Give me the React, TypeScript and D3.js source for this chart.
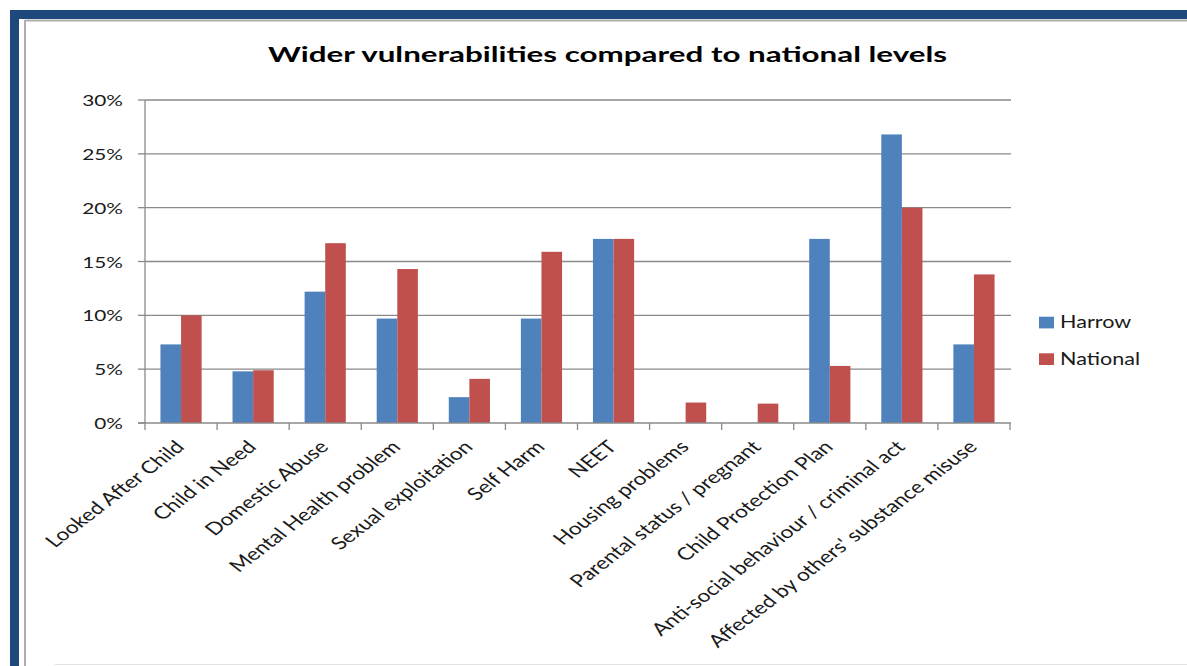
import React from "react";
import * as d3 from "d3";

// Chart data (percentages)
const categories = [
  "Looked After Child",
  "Child in Need",
  "Domestic Abuse",
  "Mental Health problem",
  "Sexual exploitation",
  "Self Harm",
  "NEET",
  "Housing problems",
  "Parental status / pregnant",
  "Child Protection Plan",
  "Anti-social behaviour / criminal act",
  "Affected by others' substance misuse",
];
const harrow = [7.3, 4.8, 12.2, 9.7, 2.4, 9.7, 17.1, 0, 0, 17.1, 26.8, 7.3];
const national = [10.0, 4.9, 16.7, 14.3, 4.1, 15.9, 17.1, 1.9, 1.8, 5.3, 20.0, 13.8];
const seriesNames = ["Harrow", "National"];
const yTicks = [0, 5, 10, 15, 20, 25, 30];

const W = 1187;
const H = 666;
const COLORS = ["#4F81BD", "#C0504D"];
const FONT = "Lato, 'Open Sans', sans-serif";
const SX = 1.3; // horizontal text stretch
const TEXT = "#1a1a1a";
const GRID = "#8a8a8a";

export default function App() {
  const plot = { left: 145, right: 1010, top: 100, bottom: 423 };
  const x0 = d3.scaleBand<string>().domain(categories).range([plot.left, plot.right]);
  const x1 = d3
    .scaleBand<string>()
    .domain(seriesNames)
    .range([0, x0.bandwidth()])
    .paddingInner(0)
    .paddingOuter(0.75);
  const y = d3.scaleLinear().domain([0, 30]).range([plot.bottom, plot.top]);
  const values = [harrow, national];

  const boundaries = d3.range(categories.length + 1).map((i) =>
    i < categories.length ? (x0(categories[i]) as number) : plot.right
  );

  return (
    <svg
      width={W}
      height={H}
      style={{ position: "absolute", left: 0, top: 0, background: "#fff" }}
    >
      {/* frame */}
      <rect x={10} y={10} width={W - 10} height={9} fill="#1F497D" />
      <rect x={10} y={10} width={9} height={H - 10} fill="#1F497D" />
      <line x1={25} x2={W} y1={20.5} y2={20.5} stroke="#aeaeae" strokeWidth={2} />
      <line x1={25} x2={25} y1={20} y2={H} stroke="#aeaeae" strokeWidth={2} />
      <line x1={55} x2={W} y1={664.5} y2={664.5} stroke="#e2e2e2" strokeWidth={1} />

      {/* title */}
      <text
        x={268}
        y={62}
        textLength={679}
        lengthAdjust="spacingAndGlyphs"
        fontFamily={FONT}
        fontWeight="bold"
        fontSize={21.5}
        fill="#000"
      >
        Wider vulnerabilities compared to national levels
      </text>

      {/* gridlines and y axis */}
      {yTicks.map((t) => (
        <g key={t}>
          {t > 0 && (
            <line
              x1={plot.left}
              x2={plot.right + 1}
              y1={y(t)}
              y2={y(t)}
              stroke={GRID}
              strokeWidth={1.3}
            />
          )}
          <line x1={plot.left - 7} x2={plot.left} y1={y(t)} y2={y(t)} stroke={GRID} strokeWidth={1.3} />
          <text
            transform={`translate(123,${y(t) + 6}) scale(${SX},1)`}
            textAnchor="end"
            fontFamily={FONT}
            fontSize={16}
            fill={TEXT}
          >
            {`${t}%`}
          </text>
        </g>
      ))}

      {/* bars */}
      {categories.map((c, i) => (
        <g key={c} transform={`translate(${x0(c)},0)`}>
          {seriesNames.map((s, k) => {
            const v = values[k][i];
            if (v <= 0) return null;
            return (
              <rect
                key={s}
                x={x1(s)}
                y={y(v)}
                width={x1.bandwidth()}
                height={y(0) - y(v)}
                fill={COLORS[k]}
              />
            );
          })}
        </g>
      ))}

      {/* axes lines */}
      <line x1={plot.left} x2={plot.left} y1={plot.top} y2={plot.bottom} stroke={GRID} strokeWidth={1.3} />
      <line x1={plot.left - 7} x2={plot.right + 1} y1={plot.bottom} y2={plot.bottom} stroke={GRID} strokeWidth={1.3} />
      {boundaries.map((bx, i) => (
        <line key={i} x1={bx} x2={bx} y1={plot.bottom} y2={plot.bottom + 7} stroke={GRID} strokeWidth={1.3} />
      ))}

      {/* category labels */}
      {categories.map((c) => {
        const cx = (x0(c) as number) + x0.bandwidth() / 2;
        return (
          <text
            key={c}
            transform={`translate(${cx + 4.5},448) scale(${SX},1) rotate(-45)`}
            textAnchor="end"
            fontFamily={FONT}
            fontSize={17.5}
            fill={TEXT}
          >
            {c}
          </text>
        );
      })}

      {/* legend */}
      {seriesNames.map((s, k) => (
        <g key={s} transform={`translate(1039,${316.7 + k * 36.6})`}>
          <rect x={0} y={0} width={15} height={11.7} fill={COLORS[k]} />
          <text
            transform={`translate(21,11.7) scale(${SX},1)`}
            fontFamily={FONT}
            fontSize={16.6}
            fill={TEXT}
          >
            {s}
          </text>
        </g>
      ))}
    </svg>
  );
}
